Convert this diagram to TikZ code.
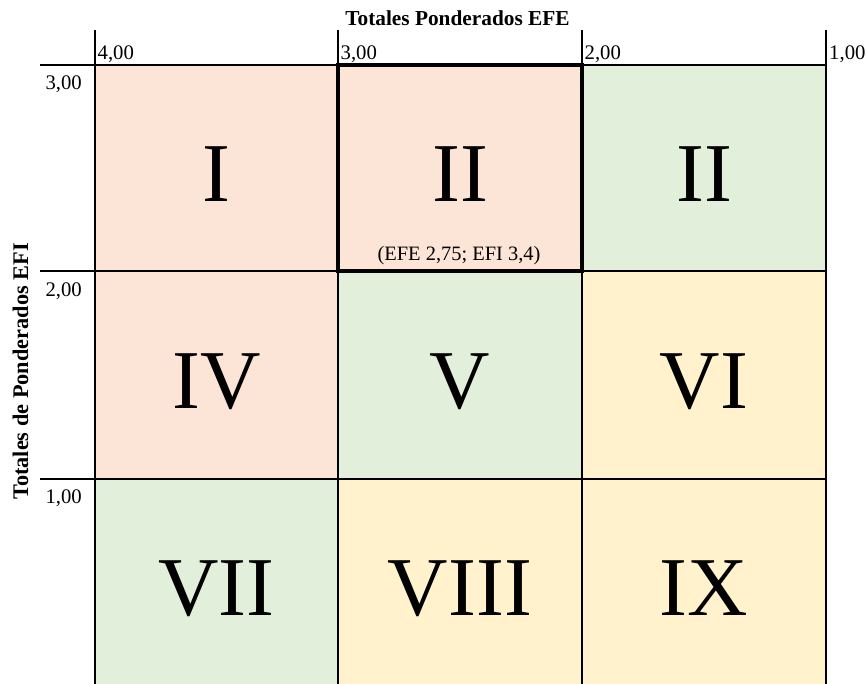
\documentclass[tikz,border=0pt]{standalone}
\usepackage{fontspec}
\setmainfont{Liberation Serif}
\definecolor{pinkc}{HTML}{FCE4D6}
\definecolor{greenc}{HTML}{E2EFDA}
\definecolor{yellowc}{HTML}{FFF2CC}
\begin{document}
\begin{tikzpicture}[x=1bp,y=-1bp,
  gridline/.style={line width=2.6bp, black},
  hiline/.style={line width=3.4bp, black},
  small/.style={font=\fontsize{20.8}{24}\selectfont, inner sep=0pt},
  title/.style={font=\fontsize{21.4}{24}\selectfont\bfseries, inner sep=0pt, anchor=base},
  vtitle/.style={font=\fontsize{22.4}{24}\selectfont\bfseries, inner sep=0pt, anchor=base, rotate=90},
  big/.style={font=\fontsize{84}{90}\selectfont, inner sep=0pt, anchor=base}]
\useasboundingbox (0,0) rectangle (868,684);
% cells
\fill[pinkc]   (95,65) rectangle (338,271);
\fill[pinkc]   (338,65) rectangle (582,271);
\fill[greenc]  (582,65) rectangle (826,271);
\fill[pinkc]   (95,271) rectangle (338,479);
\fill[greenc]  (338,271) rectangle (582,479);
\fill[yellowc] (582,271) rectangle (826,479);
\fill[greenc]  (95,479) rectangle (338,684);
\fill[yellowc] (338,479) rectangle (582,684);
\fill[yellowc] (582,479) rectangle (826,684);
% numerals
\node[big] (n1) at (216.5,201) {I};
\node[big] (n2) at (460,201) {II};
\node[big] (n3) at (704,201) {II};
\node[big] (n4) at (216.5,408) {IV};
\node[big] (n5) at (460,408) {V};
\node[big] (n6) at (704,408) {VI};
\node[big] (n7) at (216.5,615) {VII};
\node[big] (n8) at (460,615) {VIII};
\node[big] (n9) at (704,615) {IX};
\node[font=\fontsize{20.5}{24}\selectfont, inner sep=0pt, anchor=base] (pt) at (459,260) {(EFE 2,75; EFI 3,4)};
% grid lines
\foreach \yy in {65,271,479} \draw[gridline] (40,\yy) -- (826,\yy);
\foreach \xx in {95,338,582,826} \draw[gridline] (\xx,30) -- (\xx,684);
\draw[hiline] (338,65) rectangle (582,271);
% axis labels
\node[small, anchor=base west] (x4) at (97.5,60) {4,00};
\node[small, anchor=base west] (x3) at (340.5,60) {3,00};
\node[small, anchor=base west] (x2) at (584.5,60) {2,00};
\node[small, anchor=base west] (x1) at (829,60) {1,00};
\node[small, anchor=base east] (y3) at (82,90) {3,00};
\node[small, anchor=base east] (y2) at (82,296) {2,00};
\node[small, anchor=base east] (y1) at (82,503) {1,00};
\node[title] (tx) at (457.5,26) {Totales Ponderados EFE};
\node[vtitle] (ty) at (28,371.5) {Totales de Ponderados EFI};
\end{tikzpicture}
\end{document}
